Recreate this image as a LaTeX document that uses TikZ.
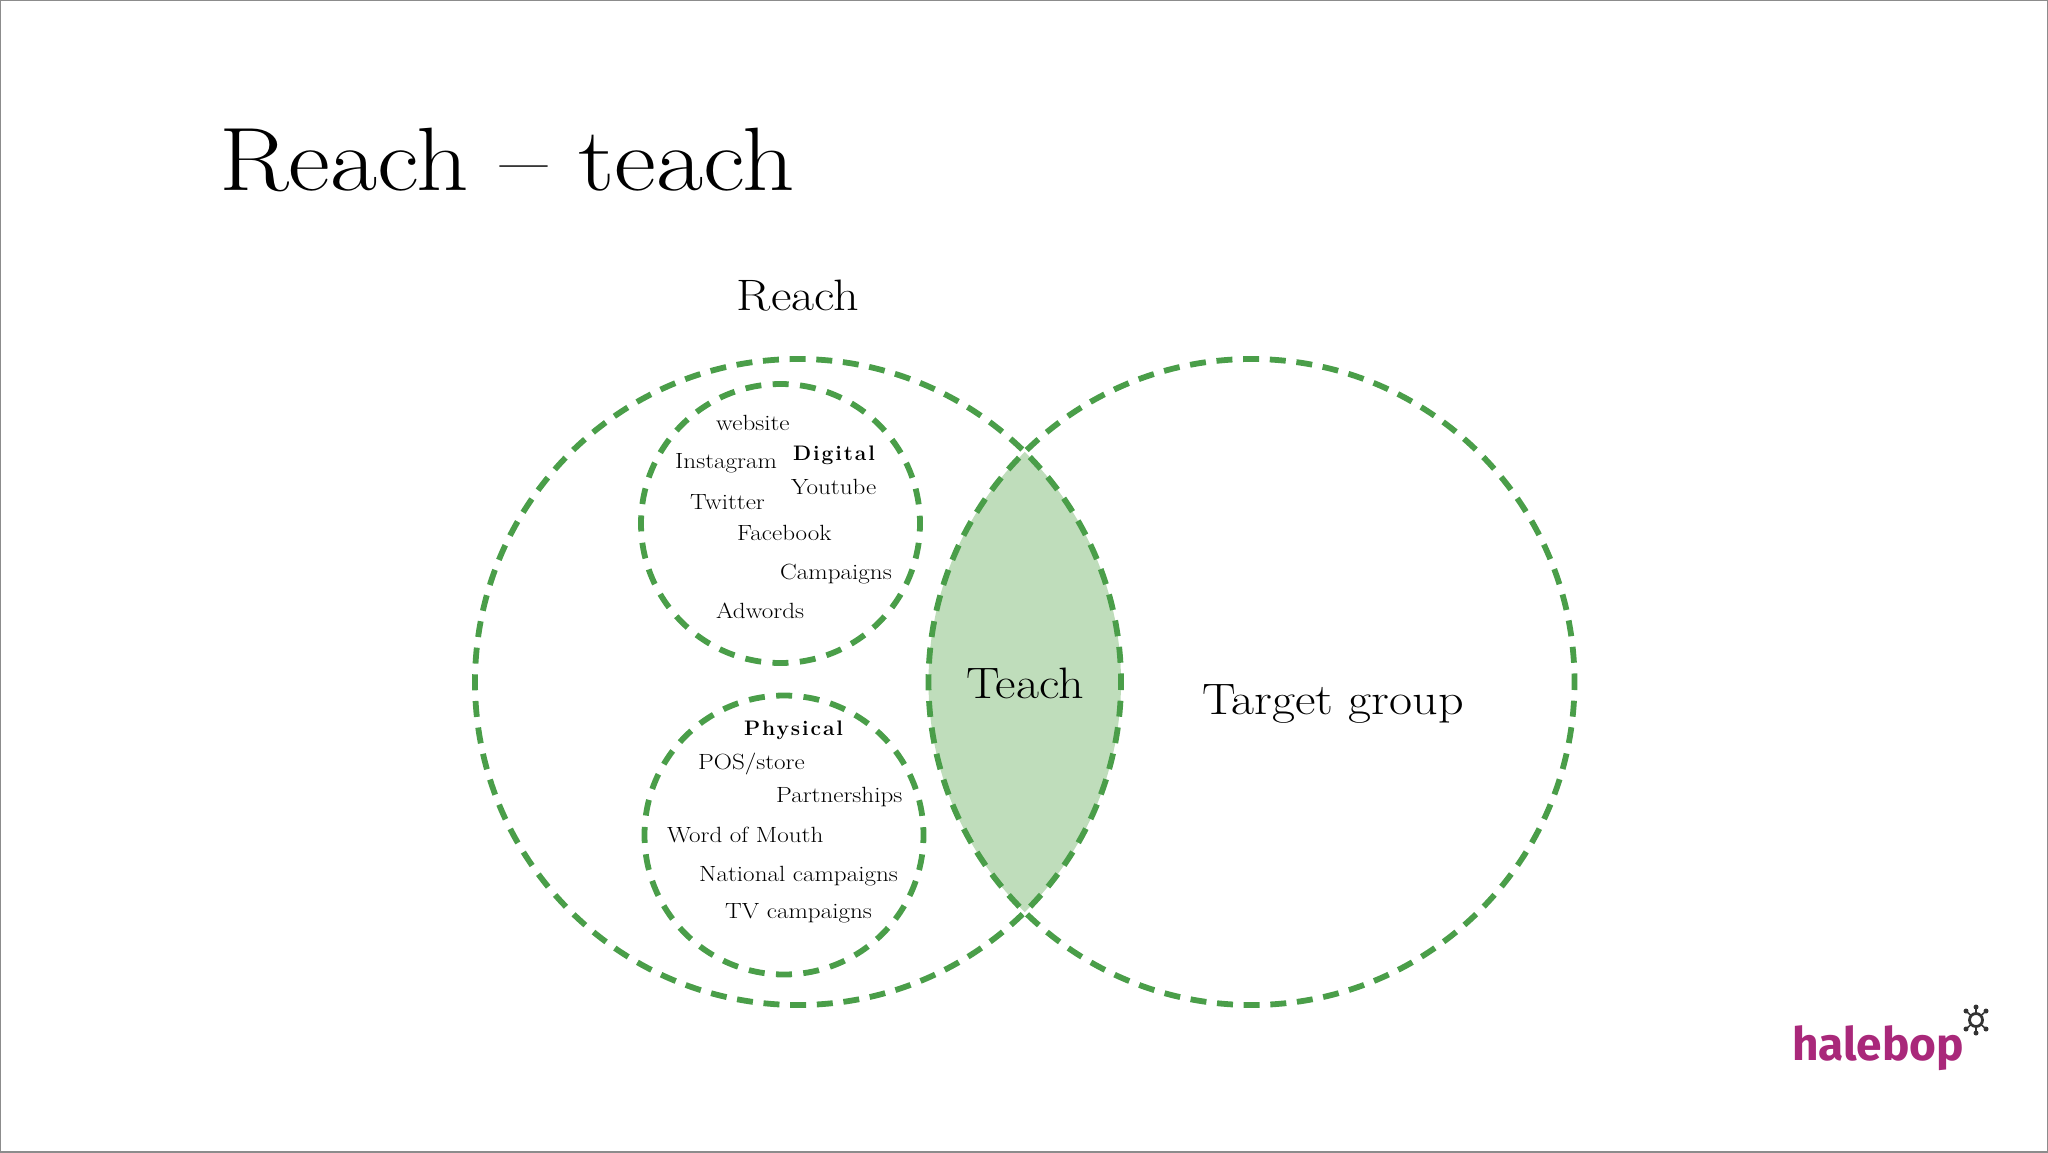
\documentclass[tikz,border=0pt]{standalone}
\usepackage{fontspec}
\newfontfamily\logofont{Fira Sans}
\newfontfamily\slabfont[FakeStretch=1.14]{Latin Modern Roman}
\newfontfamily\headfont[LetterSpace=9]{Latin Modern Roman}
\definecolor{dashgreen}{HTML}{4A9E49}
\definecolor{lensgreen}{HTML}{BFDDBB}
\definecolor{logopink}{HTML}{A9287A}
\definecolor{logodark}{HTML}{333333}
\definecolor{framegray}{HTML}{8C8C8C}
\tikzset{
  dashring/.style={draw = dashgreen, line width = 5.8, dash pattern = on 16 off 10.7, dash phase = 8},
  smallring/.style={draw = dashgreen, line width = 5.8, dash pattern = on 16 off 11.4, dash phase = 8},
  itemtext/.style={anchor = base west, inner sep = 0, text = black, font = \slabfont\fontsize{22}{22}\selectfont},
  headtext/.style={anchor = base west, inner sep = 0, font = \headfont\bfseries\fontsize{21}{21}\selectfont},
  bigtext/.style={inner sep = 0, text = black, font = \slabfont\fontsize{44}{44}\selectfont}
}
\begin{document}
\begin{tikzpicture}[x=1pt,y=-1pt]
\pgfmathsetmacro\ringr{323}
\pgfmathsetmacro\smallr{139.5}
\useasboundingbox (0,0) rectangle (2048,1152);
\draw [draw = framegray, line width = 2] (0,0) rectangle (2048,1152);
\begin{scope}
\clip (798,682) circle [radius = \ringr];
\fill [lensgreen] (1251.5,682) circle [radius = \ringr];
\end{scope}
\draw [dashring] (798,682) circle [radius = \ringr];
\draw [dashring] (1251.5,682) circle [radius = \ringr];
\draw [smallring] (780.5,523.5) circle [radius = \smallr];
\draw [smallring] (784,835) circle [radius = \smallr];
\node (title) [anchor = base west, inner sep = 0, text = black, font = \slabfont\fontsize{90}{90}\selectfont] at (219,190) {Reach – teach};
\node (reach) [bigtext] at (798,296) {Reach};
\node (teach) [bigtext] at (1025,683) {Teach};
\node (target) [bigtext] at (1333,704) {Target group};
\foreach \x/\y/\label in {716/430/website, 675/468/Instagram, 791/494/Youtube, 690/509/Twitter, 737/540/Facebook, 780/579/Campaigns, 716/618/Adwords, 698/769/{POS/store}, 776/802/Partnerships, 667/842/Word of Mouth, 699/881/National campaigns, 725/918/TV campaigns}
  \node [itemtext] at (\x,\y) {\label};
\node (digital) [headtext] at (793,460) {Digital};
\node (physical) [headtext] at (744,735) {Physical};
\node (logo) [anchor = base west, inner sep = 0, text = logopink, font = \logofont\bfseries\fontsize{46}{46}\selectfont] at (1792,1060) {halebop};
\foreach \dx/\dy in {0/-13, 10/-9, 10/9, 0/13, -10/9, -10/-9} {
  \draw [draw = logodark, line width = 1.5] (1976,1020) -- ++(\dx,\dy);
  \fill [logodark] (1976+\dx,1020+\dy) circle [radius = 2.5];
}
\draw [draw = logodark, fill = white, line width = 2.8] (1976,1020) circle [radius = 6.5];
\end{tikzpicture}
\end{document}
